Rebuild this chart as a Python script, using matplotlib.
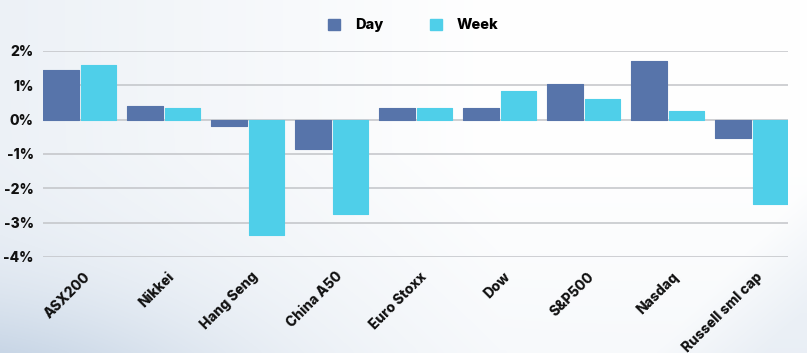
import numpy as np
import matplotlib

matplotlib.use("Agg")
import matplotlib.pyplot as plt
from matplotlib.patches import Patch

# data (% change)
INDICES = ["ASX200", "Nikkei", "Hang Seng", "China A50", "Euro Stoxx",
           "Dow", "S&P500", "Nasdaq", "Russell sml cap"]
DAY = [1.45, 0.40, -0.20, -0.87, 0.33, 0.33, 1.03, 1.70, -0.55]
WEEK = [1.60, 0.35, -3.35, -2.75, 0.35, 0.83, 0.60, 0.25, -2.45]
Y_TICKS = [2, 1, 0, -1, -2, -3, -4]

DAY_C = "#5774AA"
WEEK_C = "#4FCFE9"
GRID = "#c2c4c8"
INK = "#111111"

plt.rcParams["font.family"] = ["Inter", "DejaVu Sans"]

fig = plt.figure(figsize=(8.07, 3.53), dpi=100)

# soft background wash
bg = fig.add_axes([0, 0, 1, 1], zorder=-10)
h, w = 353, 807
yy, xx = np.mgrid[0:h, 0:w]
base = np.clip(1 - xx / 500.0, 0, 1) * 0.06 + np.clip((yy - 150) / 200.0, 0, 1) * 0.025
swoosh = np.exp(-(((xx + 40) / 260.0) ** 2 + ((yy - 420) / 110.0) ** 2)) * 0.14
corner = np.clip((xx - 720) / 110.0 + (yy - 280) / 120.0, 0, 1) * 0.045
shade = base + swoosh + corner
img = np.ones((h, w, 3))
img[..., 0] -= shade * 1.2
img[..., 1] -= shade * 0.9
img[..., 2] -= shade * 0.55
bg.imshow(np.clip(img, 0, 1), aspect="auto", extent=[0, 1, 0, 1], origin="upper")
bg.set_axis_off()

ax = fig.add_axes([0.0537, 0.272, 0.9233, 0.584])
ax.patch.set_alpha(0)

x = np.arange(len(INDICES))
bw = 0.425
ax.bar(x - 0.2225, DAY, width=bw, color=DAY_C, zorder=3,
       edgecolor=DAY_C, linewidth=0.8, joinstyle="round")
ax.bar(x + 0.2225, WEEK, width=bw, color=WEEK_C, zorder=3,
       edgecolor=WEEK_C, linewidth=0.8, joinstyle="round")

ax.set_xlim(-0.435, len(INDICES) - 1 + 0.435)
ax.set_ylim(-4, 2)
ax.set_yticks(Y_TICKS)
ax.set_yticklabels([f"{t}%" for t in Y_TICKS], fontsize=10, fontweight="heavy", color=INK)
ax.grid(axis="y", color=GRID, linewidth=1.1, zorder=0)
ax.set_axisbelow(True)
ax.tick_params(axis="y", length=0, pad=7)
ax.tick_params(axis="x", length=0, pad=9)
for s in ax.spines.values():
    s.set_visible(False)

ax.set_xticks(x + 0.04)
ax.set_xticklabels(INDICES, rotation=45, ha="right", rotation_mode="anchor",
                   fontsize=10, fontweight="heavy", color=INK)

handles = [Patch(color=DAY_C, label="Day"), Patch(color=WEEK_C, label="Week")]
fig.legend(handles=handles, loc="upper center", bbox_to_anchor=(0.512, 0.985), ncol=2,
           frameon=False, handlelength=0.85, handleheight=0.85, handletextpad=1.0,
           columnspacing=3.2, prop={"weight": "heavy", "size": 10.5})

fig.savefig("out.png", dpi=100)
